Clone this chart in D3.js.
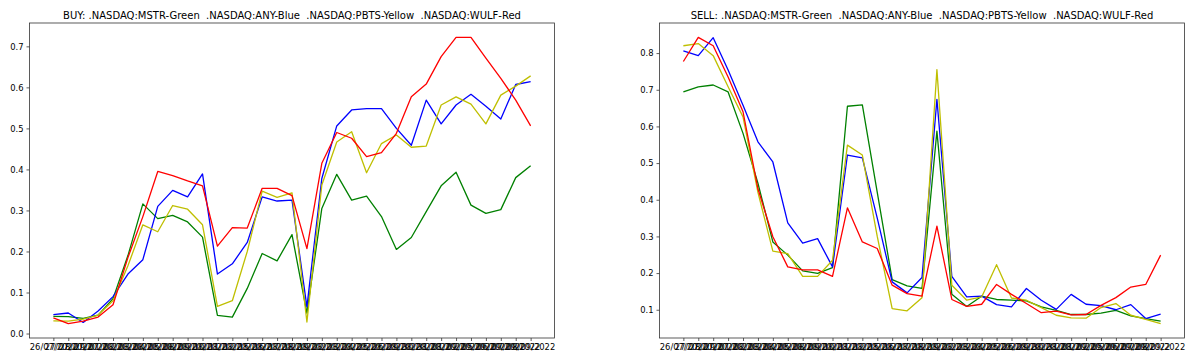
<!DOCTYPE html>
<html>
<head>
<meta charset="utf-8">
<script src="https://cdn.jsdelivr.net/npm/d3@7"></script>
<style>
  html, body { margin: 0; padding: 0; background: #fff; }
  svg { display: block; }
  text { font-family: "DejaVu Sans", sans-serif; fill: #000; }
  .title { white-space: pre; }
</style>
</head>
<body>
<svg id="chart" width="1200" height="359"></svg>
<script>
// ---- data ----
const dates = [
  "26/07/2022","27/07/2022","28/07/2022","29/07/2022",
  "01/08/2022","02/08/2022","03/08/2022","04/08/2022","05/08/2022",
  "08/08/2022","09/08/2022","10/08/2022","11/08/2022","12/08/2022",
  "15/08/2022","16/08/2022","17/08/2022","18/08/2022","19/08/2022",
  "22/08/2022","23/08/2022","24/08/2022","25/08/2022","26/08/2022",
  "29/08/2022","30/08/2022","31/08/2022","01/09/2022","02/09/2022",
  "05/09/2022","06/09/2022","07/09/2022","08/09/2022"
];

const buyTitle = "BUY: .NASDAQ:MSTR-Green  .NASDAQ:ANY-Blue  .NASDAQ:PBTS-Yellow  .NASDAQ:WULF-Red";
const sellTitle = "SELL: .NASDAQ:MSTR-Green  .NASDAQ:ANY-Blue  .NASDAQ:PBTS-Yellow  .NASDAQ:WULF-Red";

const buyMSTR = [0.042,0.041,0.037,0.045,0.085,0.19,0.316,0.28,0.288,0.272,0.235,0.044,0.04,0.11,0.195,0.177,0.241,
                 0.05,0.305,0.388,0.325,0.335,0.285,0.205,0.234,0.297,0.36,0.393,0.313,0.293,0.302,0.38,0.409];
const buyANY  = [0.046,0.05,0.027,0.055,0.09,0.145,0.18,0.31,0.349,0.333,0.389,0.145,0.17,0.222,0.333,0.323,0.325,
                 0.065,0.378,0.506,0.545,0.548,0.548,0.5,0.459,0.569,0.511,0.557,0.583,0.554,0.523,0.607,0.614];
const buyPBTS = [0.031,0.03,0.035,0.045,0.08,0.165,0.265,0.248,0.312,0.303,0.265,0.066,0.08,0.2,0.347,0.332,0.343,
                 0.028,0.362,0.467,0.492,0.392,0.463,0.484,0.454,0.457,0.557,0.577,0.559,0.511,0.581,0.603,0.628];
const buyWULF = [0.038,0.024,0.03,0.04,0.07,0.185,0.285,0.395,0.385,0.372,0.36,0.213,0.258,0.257,0.354,0.354,0.336,
                 0.207,0.415,0.49,0.476,0.431,0.441,0.488,0.577,0.608,0.675,0.722,0.722,0.671,0.622,0.569,0.506];

const sellMSTR = [0.694,0.708,0.713,0.694,0.581,0.445,0.285,0.249,0.206,0.199,0.215,0.655,0.659,0.42,0.182,0.165,0.158,
                  0.587,0.142,0.109,0.137,0.128,0.126,0.124,0.108,0.098,0.087,0.087,0.091,0.098,0.083,0.076,0.069];
const sellANY  = [0.806,0.793,0.842,0.754,0.658,0.558,0.503,0.337,0.282,0.294,0.217,0.522,0.514,0.35,0.176,0.146,0.188,
                  0.674,0.191,0.135,0.137,0.114,0.108,0.158,0.126,0.101,0.142,0.115,0.111,0.1,0.114,0.076,0.088];
const sellPBTS = [0.82,0.826,0.793,0.708,0.626,0.42,0.26,0.253,0.191,0.191,0.235,0.549,0.522,0.3,0.103,0.097,0.133,
                  0.755,0.167,0.126,0.135,0.223,0.132,0.126,0.106,0.085,0.078,0.077,0.106,0.117,0.085,0.074,0.062];
const sellWULF = [0.777,0.843,0.82,0.735,0.64,0.43,0.299,0.217,0.209,0.209,0.191,0.378,0.285,0.267,0.167,0.144,0.137,
                  0.328,0.128,0.109,0.115,0.169,0.142,0.117,0.092,0.096,0.086,0.087,0.112,0.133,0.162,0.169,0.249];

const seriesColors = ["#008000", "#0000ff", "#bfbf00", "#ff0000"];

// ---- drawing ----
const svg = d3.select("#chart");

function panel(left, right, top, bottom, title, seriesList) {
  const g = svg.append("g");
  const n = dates.length;
  const x = d3.scaleLinear()
    .domain([-(n - 1) * 0.05, (n - 1) * 1.05])
    .range([left, right]);
  const all = seriesList.flat();
  const lo = d3.min(all), hi = d3.max(all), pad = (hi - lo) * 0.05;
  const y = d3.scaleLinear().domain([lo - pad, hi + pad]).range([bottom, top]);

  const line = d3.line().x((d, i) => x(i)).y(d => y(d));
  seriesList.forEach((s, k) => {
    g.append("path")
      .attr("d", line(s))
      .attr("fill", "none")
      .attr("stroke", seriesColors[k])
      .attr("stroke-width", 1.3)
      .attr("stroke-linejoin", "round");
  });

  // frame
  g.append("rect")
    .attr("x", left).attr("y", top)
    .attr("width", right - left).attr("height", bottom - top)
    .attr("fill", "none").attr("stroke", "#333").attr("stroke-width", 0.8);

  // y axis
  const yAxis = d3.axisLeft(y).ticks(8).tickFormat(d3.format(".1f")).tickSize(3).tickPadding(3);
  const ya = g.append("g").attr("transform", `translate(${left},0)`).call(yAxis);
  ya.select(".domain").remove();
  ya.selectAll("line").attr("stroke", "#333").attr("stroke-width", 0.8);
  ya.selectAll("text").attr("font-size", "8.4px").attr("font-family", "DejaVu Sans, sans-serif").attr("fill", "#222");

  // x axis
  const xAxis = d3.axisBottom(x).tickValues(d3.range(n)).tickFormat(i => dates[i]).tickSize(3).tickPadding(3);
  const xa = g.append("g").attr("transform", `translate(0,${bottom})`).call(xAxis);
  xa.select(".domain").remove();
  xa.selectAll("line").attr("stroke", "#333").attr("stroke-width", 0.8);
  xa.selectAll("text").attr("font-size", "8.4px").attr("font-family", "DejaVu Sans, sans-serif").attr("fill", "#222");

  // title
  g.append("text")
    .attr("class", "title")
    .attr("x", (left + right) / 2).attr("y", 18.5)
    .attr("text-anchor", "middle")
    .attr("font-size", "10px")
    .attr("fill", "#111")
    .text(title);
}

panel(29.5, 554.5, 23, 338, buyTitle, [buyMSTR, buyANY, buyPBTS, buyWULF]);
panel(659.5, 1184.5, 23, 338, sellTitle, [sellMSTR, sellANY, sellPBTS, sellWULF]);
</script>
</body>
</html>
